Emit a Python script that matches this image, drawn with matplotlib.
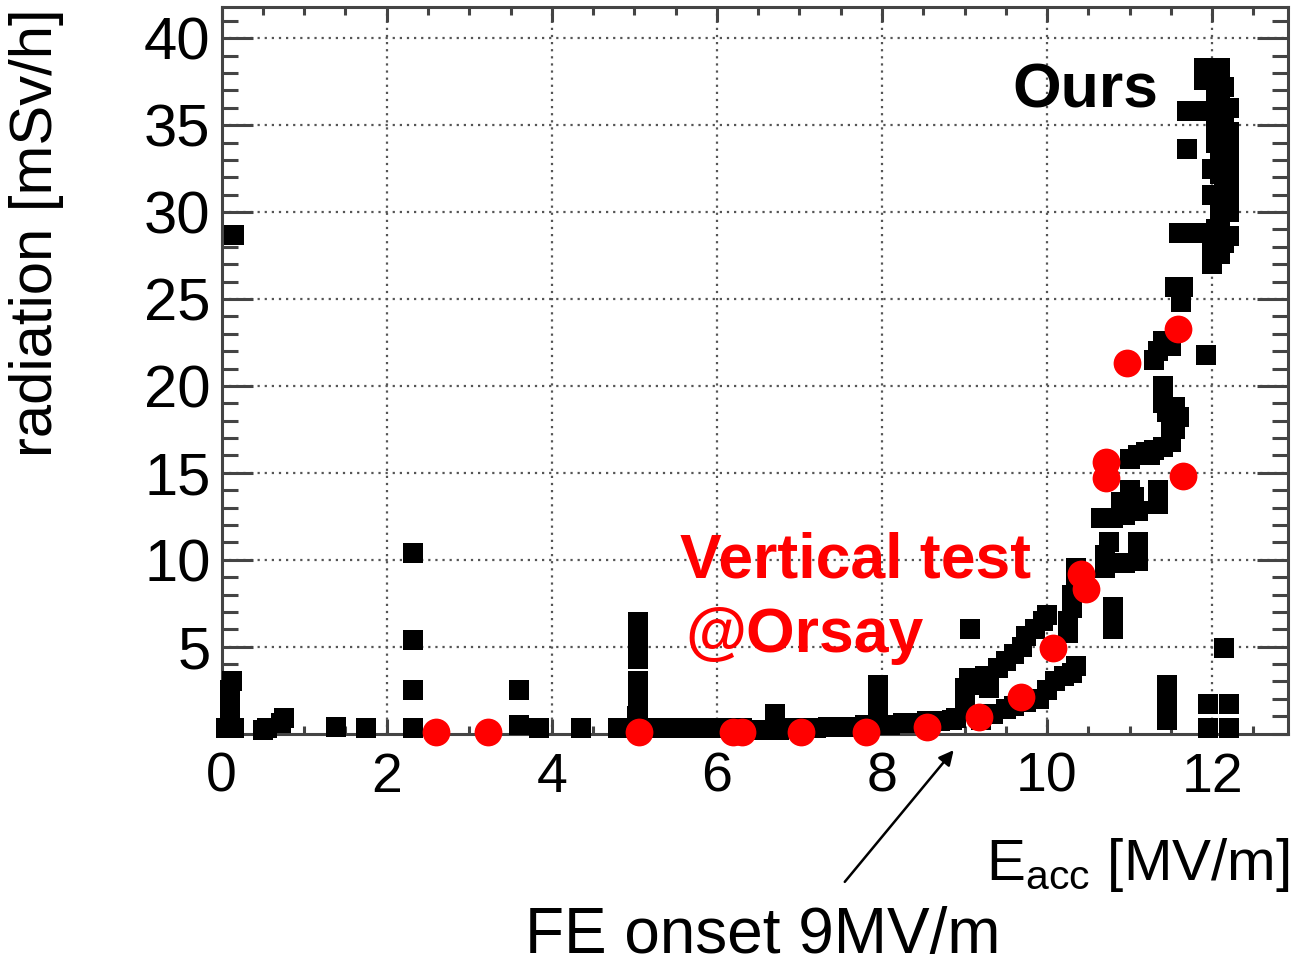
import matplotlib
matplotlib.use('Agg')
import matplotlib.pyplot as plt

plt.rcParams['font.family'] = ['Liberation Sans', 'DejaVu Sans']
plt.rcParams['mathtext.fontset'] = 'custom'
plt.rcParams['mathtext.rm'] = 'Liberation Sans'

ours_x = [0.05, 0.15, 0.1, 0.1, 0.1, 0.12, 0.15,
          0.5, 0.55, 0.72, 0.75, 1.38, 1.75, 2.32, 2.32, 2.32, 2.32, 3.6, 3.6, 3.85, 4.35, 4.8,
          5.03, 5.03, 5.05, 5.05, 5.05, 5.05, 5.05, 5.05, 5.05, 5.05, 5.05, 5.05,
          5.1, 5.25, 5.4, 5.55, 5.7, 5.85, 6.0, 6.15, 6.3, 6.45, 6.6, 6.75, 6.9, 7.05, 7.2,
          7.35, 7.5, 7.65, 7.8, 7.95, 8.1, 8.25, 8.4, 8.55, 8.7, 8.85,
          6.7, 7.95, 7.95, 7.95, 7.95,
          8.9, 9.0, 9.0, 9.0, 9.05, 9.07, 9.15, 9.25, 9.3, 9.4, 9.5, 9.6, 9.7, 9.75, 9.85, 9.95, 10.0,
          9.2, 9.35, 9.5, 9.6, 9.75, 9.9, 10.0, 10.1, 10.2, 10.3, 10.35,
          10.25, 10.25, 10.3, 10.3, 10.35, 10.35,
          10.7, 10.7, 10.75, 10.85, 10.95, 11.1, 11.1, 11.1,
          10.8, 10.8, 10.8,
          10.65, 10.8, 10.95, 11.1, 10.9, 11.0, 11.05, 11.35, 11.35,
          11.0, 11.1, 11.2, 11.3, 11.4, 11.5, 11.55, 11.6, 11.55,
          11.4, 11.4, 11.35, 11.4, 11.55, 11.65, 11.62,
          11.93, 11.45, 11.45, 11.45, 11.45, 11.95, 12.2, 11.95, 12.2, 12.15,
          12.0, 12.1, 12.15, 12.0, 11.6, 11.8, 12.05, 12.1, 12.1, 12.15, 12.1, 12.2, 12.2,
          12.2, 12.15, 12.1, 12.1, 12.05, 12.1, 11.9, 11.9, 11.7, 11.85, 11.7, 12.05, 12.05,
          12.1, 12.2, 12.0,
          12.2, 12.2, 12.2, 12.0, 12.0, 12.05, 12.15, 12.2, 11.5, 11.45, 11.25, 11.5, 11.3]
ours_y = [0.3, 0.3, 1.5, 2.0, 2.5, 3.0, 28.7,
          0.2, 0.3, 0.6, 0.9, 0.4, 0.3, 0.3, 2.5, 5.4, 10.4, 0.5, 2.5, 0.3, 0.3, 0.3,
          0.5, 1.0, 1.5, 2.0, 2.5, 4.3, 4.8, 5.2, 5.6, 6.0, 6.4, 3.0,
          0.3, 0.3, 0.3, 0.3, 0.3, 0.3, 0.3, 0.3, 0.3, 0.2, 0.2, 0.2, 0.3, 0.3, 0.3,
          0.4, 0.4, 0.4, 0.5, 0.5, 0.5, 0.6, 0.6, 0.7, 0.7, 0.8,
          1.1, 1.2, 1.8, 2.4, 2.8,
          0.9, 1.3, 2.0, 2.6, 3.2, 6.0, 2.8, 3.3, 2.6, 3.8, 4.2, 4.6, 5.0, 5.6, 6.0, 6.5, 6.8,
          0.8, 1.1, 1.4, 1.6, 1.8, 2.0, 2.5, 3.0, 3.3, 3.5, 3.9,
          5.8, 6.5, 7.2, 8.0, 8.8, 9.5,
          9.5, 10.3, 11.0, 9.8, 9.8, 9.9, 10.5, 11.0,
          6.0, 6.8, 7.3,
          12.4, 12.4, 12.6, 12.8, 13.3, 14.0, 13.6, 13.2, 14.0,
          15.8, 16.0, 16.2, 16.3, 16.5, 16.8, 17.5, 18.2, 18.8,
          19.0, 20.0, 22.0, 22.6, 25.7, 25.7, 24.8,
          21.8, 0.8, 1.5, 2.2, 2.8, 0.3, 0.3, 1.7, 1.7, 4.9,
          27.3, 27.6, 28.2, 28.0, 28.8, 28.8, 29.0, 29.8, 30.6, 31.5, 32.2, 33.0, 33.8,
          34.6, 35.3, 36.0, 36.8, 37.6, 38.3, 38.3, 37.6, 35.8, 35.8, 33.6, 34.0, 35.0,
          33.3, 28.6, 27.0,
          30.0, 31.0, 32.0, 31.0, 32.5, 36.5, 37.2, 36.0, 17.8, 18.5, 16.0, 22.3, 21.5]

# Vertical test @Orsay (red circles)
orsay_x = [2.6, 3.23, 5.06, 6.2, 6.3, 7.02, 7.81, 8.54, 9.17, 9.68, 10.07,
           10.41, 10.47, 10.71, 10.71, 10.97, 11.59, 11.65]
orsay_y = [0.1, 0.1, 0.1, 0.1, 0.1, 0.1, 0.1, 0.38, 0.95, 2.1, 4.95,
           9.2, 8.3, 15.6, 14.7, 21.3, 23.3, 14.8]

x_ticks = [0, 2, 4, 6, 8, 10, 12]
y_ticks = [5, 10, 15, 20, 25, 30, 35, 40]

fig = plt.figure(figsize=(12.97, 9.66), dpi=100)
ax = fig.add_axes([0.1709, 0.2406, 0.8222, 0.7522])

ax.plot(ours_x, ours_y, 's', color='black', ms=15, mew=0, clip_on=False, zorder=3)
ax.plot(orsay_x, orsay_y, 'o', color='#ff0000', ms=20, mew=0, clip_on=False, zorder=4)

ax.set_xlim(0, 12.92)
ax.set_ylim(0, 41.8)
ax.set_xticks(x_ticks)
ax.set_yticks(y_ticks)
ax.set_xticks([i * 0.5 for i in range(26)], minor=True)
ax.set_yticks(range(0, 42), minor=True)
ax.grid(True, which='major', color='#555555', linestyle=(0, (1, 2.2)), lw=1.6)

ax.tick_params(axis='both', which='both', direction='in', top=True, right=True,
               color='#444444', width=2.2)
ax.tick_params(axis='x', which='major', length=11, labelsize=40, pad=13)
ax.tick_params(axis='x', which='minor', length=6)
ax.tick_params(axis='y', which='major', length=22, labelsize=43, pad=8)
ax.tick_params(axis='y', which='minor', length=11.5)
for sp in ax.spines.values():
    sp.set_color('#444444')
    sp.set_linewidth(2.2)

fig.text(37 / 1297, 1 - 8 / 966, 'radiation [mSv/h]', rotation=90, ha='center', va='top', fontsize=43)
fig.text(1290 / 1297, 1 - 880 / 966, r'E$_{\mathrm{acc}}$ [MV/m]', ha='right', va='baseline', fontsize=42)

ax.text(9.58, 36.0, 'Ours', fontsize=45, fontweight='bold', color='black', ha='left', va='baseline', zorder=5)
ax.text(5.555, 9.0, 'Vertical test', fontsize=45, fontweight='bold', color='#ff0000', ha='left', va='baseline', zorder=5)
ax.text(5.62, 4.7, '@Orsay', fontsize=45, fontweight='bold', color='#ff0000', ha='left', va='baseline', zorder=5)

ax.annotate('', xy=(8.89, -0.83), xycoords='data', xytext=(843 / 1297, 1 - 884 / 966),
            textcoords='figure fraction', annotation_clip=False,
            arrowprops=dict(arrowstyle='-|>', color='black', lw=1.8, mutation_scale=22))
fig.text(763 / 1297, 1 - 953 / 966, 'FE onset 9MV/m', ha='center', va='baseline', fontsize=46)

fig.savefig('out.png', dpi=100)
